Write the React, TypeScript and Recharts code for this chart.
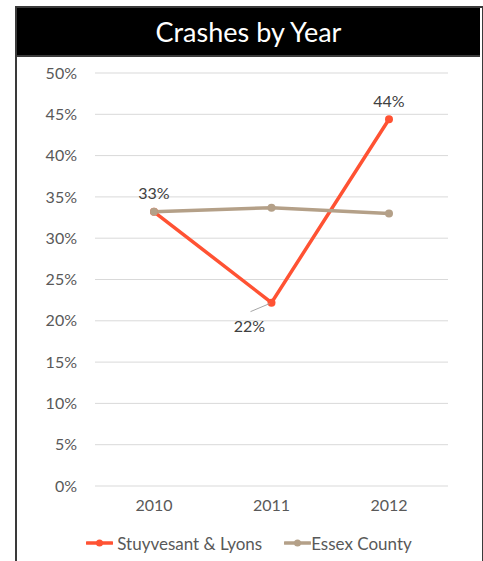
import React from 'react';
import { LineChart, Line, XAxis, YAxis, CartesianGrid } from 'recharts';

const years = ['2010', '2011', '2012'];
const stuyvesant = [33.2, 22.2, 44.4];
const essex = [33.2, 33.7, 33.0];
const yTicks = [0, 5, 10, 15, 20, 25, 30, 35, 40, 45, 50];
const stuyLabels = ['33%', '22%', '44%'];
const seriesNames = ['Stuyvesant & Lyons', 'Essex County'];

const data = years.map((y, i) => ({ year: y, stuy: stuyvesant[i], essex: essex[i] }));

const FONT = 'Lato, "Open Sans", sans-serif';
const ORANGE = '#FF5233';
const TAN = '#B4A088';
const seriesColors = [ORANGE, TAN];

const StuyLabel = (props: any) => {
  const { x, y, index } = props;
  const text = stuyLabels[index];
  if (index === 1) {
    return (
      <g>
        <line x1={x - 2} y1={y + 1} x2={x - 21} y2={y + 9} stroke="#A6A6A6" strokeWidth={1} />
        <text x={x - 22} y={y + 23} textAnchor="middle" dominantBaseline="central" fill="#404040" fontSize={16} fontFamily={FONT}>
          {text}
        </text>
      </g>
    );
  }
  return (
    <text x={x} y={y - 19} textAnchor="middle" dominantBaseline="central" fill="#404040" fontSize={16} fontFamily={FONT}>
      {text}
    </text>
  );
};

const LegendBlock = () => (
  <div
    style={{
      position: 'absolute',
      left: 15,
      width: 468,
      top: 533,
      height: 20,
      display: 'flex',
      justifyContent: 'center',
      alignItems: 'center',
      fontFamily: FONT,
      fontSize: 17,
      color: '#595959',
    }}
  >
    {seriesNames.map((name, i) => (
      <div key={i} style={{ display: 'flex', alignItems: 'center', marginRight: i === 0 ? 22 : 0 }}>
        <svg width={27} height={10} style={{ marginRight: i === 0 ? 4 : 0 }}>
          <line x1={1} y1={5} x2={26} y2={5} stroke={seriesColors[i]} strokeWidth={3.5} strokeLinecap="round" />
          <circle cx={13.5} cy={5} r={3.5} fill={seriesColors[i]} />
        </svg>
        <span>{name}</span>
      </div>
    ))}
  </div>
);

export default function App() {
  return (
    <div style={{ position: 'absolute', left: 0, top: 0, width: 483, height: 561, background: '#fff', overflow: 'hidden' }}>
      <div
        style={{
          position: 'absolute',
          left: 15,
          top: 6,
          width: 465,
          height: 560,
          border: '2px solid #3a3a3a',
          borderBottom: 'none',
          borderRight: '3px solid #3a3a3a',
        }}
      />
      <div
        style={{
          position: 'absolute',
          left: 17,
          top: 8,
          width: 463,
          height: 47,
          background: '#000',
          borderBottom: '2px solid #3a3a3a',
          color: '#fff',
          fontFamily: FONT,
          fontSize: 27,
          display: 'flex',
          alignItems: 'center',
          justifyContent: 'center',
        }}
      >
        Crashes by Year
      </div>
      <div style={{ position: 'absolute', left: 0, top: 0 }}>
        <LineChart width={483} height={561} data={data} margin={{ top: 73, right: 35, bottom: 45, left: 45 }}>
          <CartesianGrid horizontal vertical={false} stroke="#D9D9D9" />
          <XAxis
            dataKey="year"
            height={30}
            axisLine={false}
            tickLine={false}
            tickSize={0}
            tickMargin={14}
            padding={{ left: 59, right: 59 }}
            tick={{ fill: '#595959', fontSize: 16, fontFamily: FONT }}
          />
          <YAxis
            width={50}
            domain={[0, 50]}
            ticks={yTicks}
            tickFormatter={(v: number) => `${v}%`}
            axisLine={false}
            tickLine={false}
            tickSize={0}
            tickMargin={18}
            tick={{ fill: '#595959', fontSize: 16, fontFamily: FONT }}
          />
          <Line
            dataKey="stuy"
            name={seriesNames[0]}
            stroke={ORANGE}
            strokeWidth={3.5}
            dot={{ r: 4, fill: ORANGE, stroke: ORANGE, strokeWidth: 0 }}
            isAnimationActive={false}
            label={<StuyLabel />}
          />
          <Line
            dataKey="essex"
            name={seriesNames[1]}
            stroke={TAN}
            strokeWidth={3.5}
            dot={{ r: 4, fill: TAN, stroke: TAN, strokeWidth: 0 }}
            isAnimationActive={false}
          />
        </LineChart>
      </div>
      <LegendBlock />
    </div>
  );
}
